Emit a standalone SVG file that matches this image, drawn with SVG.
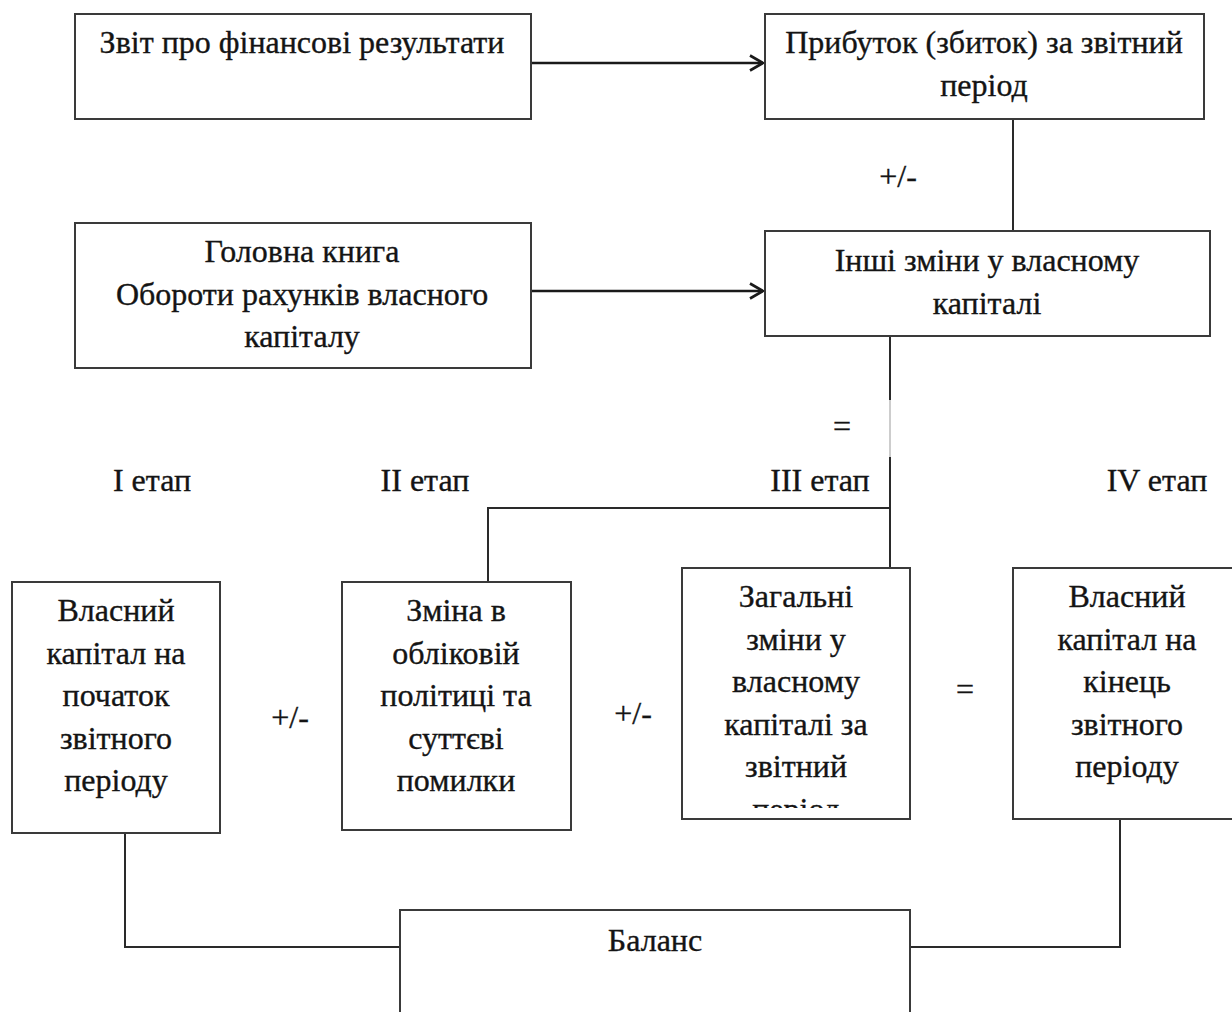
<svg xmlns="http://www.w3.org/2000/svg" width="1232" height="1012" viewBox="0 0 1232 1012">
  <style>
    .box { fill: #ffffff; stroke: #3a3a3a; stroke-width: 2; }
    .lbl { font-family: "Liberation Serif", "Times New Roman", serif; font-size: 32px; fill: #141414; stroke: #141414; stroke-width: 0.35; text-anchor: middle; }
    .conn { fill: none; stroke: #2a2a2a; stroke-width: 2; }
    .flow { fill: none; stroke: #1a1a1a; stroke-width: 2.5; }
  </style>
  <defs>
    <marker id="arrow" markerWidth="20" markerHeight="20" refX="16" refY="10" orient="auto" markerUnits="userSpaceOnUse">
      <path d="M3,2.5 L16,10 L3,17.5" fill="none" stroke="#1a1a1a" stroke-width="2.6"/>
    </marker>
    <clipPath id="clipTotal">
      <rect x="683" y="569" width="226" height="239"/>
    </clipPath>
  </defs>
  <rect width="1232" height="1012" fill="#ffffff"/>

  <!-- connectors -->
  <g id="connectors">
    <line class="flow" x1="531" y1="63" x2="763" y2="63" marker-end="url(#arrow)"/>
    <line class="flow" x1="531" y1="291" x2="763" y2="291" marker-end="url(#arrow)"/>
    <line class="conn" x1="1013" y1="119" x2="1013" y2="231"/>
    <line class="conn" x1="890" y1="336" x2="890" y2="400"/>
    <line x1="890" y1="400" x2="890" y2="457" stroke="#bdbdbd" stroke-width="1.5"/>
    <line class="conn" x1="890" y1="457" x2="890" y2="568"/>
    <polyline class="conn" points="890,508 488,508 488,582"/>
    <polyline class="conn" points="125,833 125,947 400,947"/>
    <polyline class="conn" points="1120,819 1120,947 910,947"/>
  </g>

  <!-- free labels -->
  <g id="labels">
    <text class="lbl" x="898" y="187">+/-</text>
    <text class="lbl" x="842" y="437">=</text>
    <text class="lbl" x="152" y="491">I етап</text>
    <text class="lbl" x="425" y="491">II етап</text>
    <text class="lbl" x="820" y="491">III етап</text>
    <text class="lbl" x="1157" y="491">IV етап</text>
    <text class="lbl" x="290" y="728">+/-</text>
    <text class="lbl" x="633" y="724">+/-</text>
    <text class="lbl" x="965" y="700">=</text>
  </g>

  <g id="node-report">
    <rect class="box" x="75" y="14" width="456" height="105"/>
    <text class="lbl" x="302" y="53">Звіт про фінансові результати</text>
  </g>

  <g id="node-profit">
    <rect class="box" x="765" y="14" width="439" height="105"/>
    <text class="lbl" x="984" y="53">Прибуток (збиток) за звітний</text>
    <text class="lbl" x="984" y="96">період</text>
  </g>

  <g id="node-ledger">
    <rect class="box" x="75" y="223" width="456" height="145"/>
    <text class="lbl" x="302" y="262">Головна книга</text>
    <text class="lbl" x="302" y="305">Обороти рахунків власного</text>
    <text class="lbl" x="302" y="347">капіталу</text>
  </g>

  <g id="node-other">
    <rect class="box" x="765" y="231" width="445" height="105"/>
    <text class="lbl" x="987" y="271">Інші зміни у власному</text>
    <text class="lbl" x="987" y="314">капіталі</text>
  </g>

  <g id="node-start">
    <rect class="box" x="12" y="582" width="208" height="251"/>
    <text class="lbl" x="116" y="621">Власний</text>
    <text class="lbl" x="116" y="664">капітал на</text>
    <text class="lbl" x="116" y="706">початок</text>
    <text class="lbl" x="116" y="749">звітного</text>
    <text class="lbl" x="116" y="791">періоду</text>
  </g>

  <g id="node-policy">
    <rect class="box" x="342" y="582" width="229" height="248"/>
    <text class="lbl" x="456" y="621">Зміна в</text>
    <text class="lbl" x="456" y="664">обліковій</text>
    <text class="lbl" x="456" y="706">політиці та</text>
    <text class="lbl" x="456" y="749">суттєві</text>
    <text class="lbl" x="456" y="791">помилки</text>
  </g>

  <g id="node-total">
    <rect class="box" x="682" y="568" width="228" height="251"/>
    <g clip-path="url(#clipTotal)">
      <text class="lbl" x="796" y="607">Загальні</text>
      <text class="lbl" x="796" y="650">зміни у</text>
      <text class="lbl" x="796" y="692">власному</text>
      <text class="lbl" x="796" y="735">капіталі за</text>
      <text class="lbl" x="796" y="777">звітний</text>
      <text class="lbl" x="796" y="820">період</text>
    </g>
  </g>

  <g id="node-end">
    <rect class="box" x="1013" y="568" width="230" height="251"/>
    <text class="lbl" x="1127" y="607">Власний</text>
    <text class="lbl" x="1127" y="650">капітал на</text>
    <text class="lbl" x="1127" y="692">кінець</text>
    <text class="lbl" x="1127" y="735">звітного</text>
    <text class="lbl" x="1127" y="777">періоду</text>
  </g>

  <g id="node-balance">
    <rect class="box" x="400" y="910" width="510" height="120"/>
    <text class="lbl" x="655" y="951">Баланс</text>
  </g>
</svg>
